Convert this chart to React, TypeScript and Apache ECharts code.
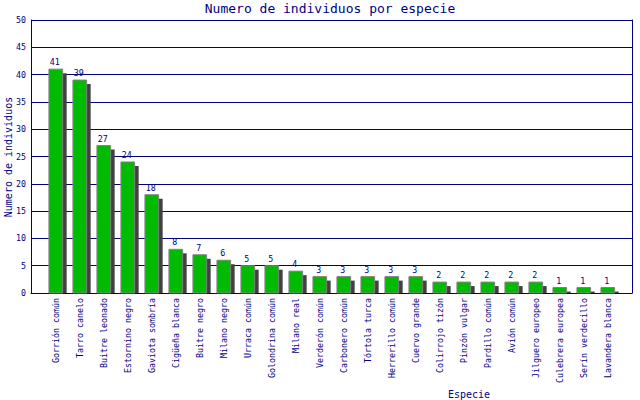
import React, { useEffect, useRef } from "react";
import * as echarts from "echarts";

const categories = [
  "Gorrión común", "Tarro canelo", "Buitre leonado", "Estornino negro",
  "Gaviota sombría", "Cigüeña blanca", "Buitre negro", "Milano negro",
  "Urraca común", "Golondrina común", "Milano real", "Verderón común",
  "Carbonero común", "Tórtola turca", "Herrerillo común", "Cuervo grande",
  "Colirrojo tizón", "Pinzón vulgar", "Pardillo común", "Avión común",
  "Jilguero europeo", "Culebrera europea", "Serín verdecillo", "Lavandera blanca",
];
const values = [41, 39, 27, 24, 18, 8, 7, 6, 5, 5, 4, 3, 3, 3, 3, 3, 2, 2, 2, 2, 2, 1, 1, 1];

const NAVY = "#000080";
const FONT = "'DejaVu Sans Mono', 'Liberation Mono', monospace";

export default function App() {
  const ref = useRef<HTMLDivElement>(null);
  useEffect(() => {
    if (!ref.current) return;
    document.body.style.margin = "0";
    const chart = echarts.init(ref.current, null, { renderer: "svg" });
    chart.setOption({
      animation: false,
      backgroundColor: "#ffffff",
      grid: [
        { left: 31, right: 8, top: 20, bottom: 107, show: false },
        { left: 43.8, width: 576, top: 20, bottom: 107, show: false },
      ],
      xAxis: [
        {
          gridIndex: 0, type: "value", min: 0, max: 1,
          axisLine: { show: true, lineStyle: { color: NAVY, width: 1 } },
          axisTick: { show: false }, axisLabel: { show: false }, splitLine: { show: false },
        },
        {
          gridIndex: 1, type: "category", data: categories,
          axisLine: { show: false }, axisTick: { show: false },
          axisLabel: {
            interval: 0, rotate: 90, margin: 5, color: NAVY,
            fontFamily: FONT, fontSize: 8.3,
          },
        },
      ],
      yAxis: [
        {
          gridIndex: 0, type: "value", min: 0, max: 50, interval: 5,
          axisLine: { show: true, lineStyle: { color: NAVY, width: 1 } },
          axisTick: { show: false },
          axisLabel: { color: NAVY, fontFamily: FONT, fontSize: 8.3, margin: 5 },
          splitLine: { show: true, lineStyle: { color: NAVY, width: 1 } },
        },
        {
          gridIndex: 0, type: "value", min: 0, max: 50, position: "right",
          axisLine: { show: true, lineStyle: { color: NAVY, width: 1 } },
          axisTick: { show: false }, axisLabel: { show: false }, splitLine: { show: false },
        },
        {
          gridIndex: 1, type: "value", min: 0, max: 50, show: false,
        },
      ],
      graphic: [
        {
          type: "text", x: 330, y: 8,
          style: {
            text: "Numero de individuos por especie", fill: NAVY,
            font: `13px ${FONT}`, textAlign: "center", textVerticalAlign: "middle",
          },
        },
        {
          type: "text", x: 469, y: 394,
          style: {
            text: "Especie", fill: NAVY,
            font: `10px ${FONT}`, textAlign: "center", textVerticalAlign: "middle",
          },
        },
        {
          type: "text", x: 8, y: 157, rotation: Math.PI / 2,
          style: {
            text: "Numero de individuos", fill: NAVY,
            font: `10px ${FONT}`, textAlign: "center", textVerticalAlign: "middle",
          },
        },
      ],
      series: [
        {
          type: "custom",
          xAxisIndex: 1, yAxisIndex: 2,
          data: values.map((v, i) => [i, v]),
          renderItem: (params: any, api: any) => {
            const i = api.value(0);
            const v = api.value(1);
            const top = api.coord([i, v]);
            const base = api.coord([i, 0]);
            const cx = top[0];
            const w = 13.7;
            const off = 4;
            const h = base[1] - top[1];
            const shH = Math.max(0, h - off);
            return {
              type: "group",
              children: [
                {
                  type: "rect",
                  shape: { x: cx - w / 2 + off, y: top[1] + off, width: w, height: shH },
                  style: { fill: "#404040" },
                },
                {
                  type: "rect",
                  shape: { x: cx - w / 2, y: top[1], width: w, height: h },
                  style: { fill: "#00bb00", stroke: "#808080", lineWidth: 1 },
                },
                {
                  type: "text",
                  x: cx - 1, y: top[1] - 3,
                  style: {
                    text: String(v), fill: NAVY, font: `8.3px ${FONT}`,
                    textAlign: "center", textVerticalAlign: "bottom",
                  },
                },
              ],
            };
          },
        },
      ],
    });
    return () => chart.dispose();
  }, []);
  return <div ref={ref} style={{ width: 640, height: 400 }} />;
}
